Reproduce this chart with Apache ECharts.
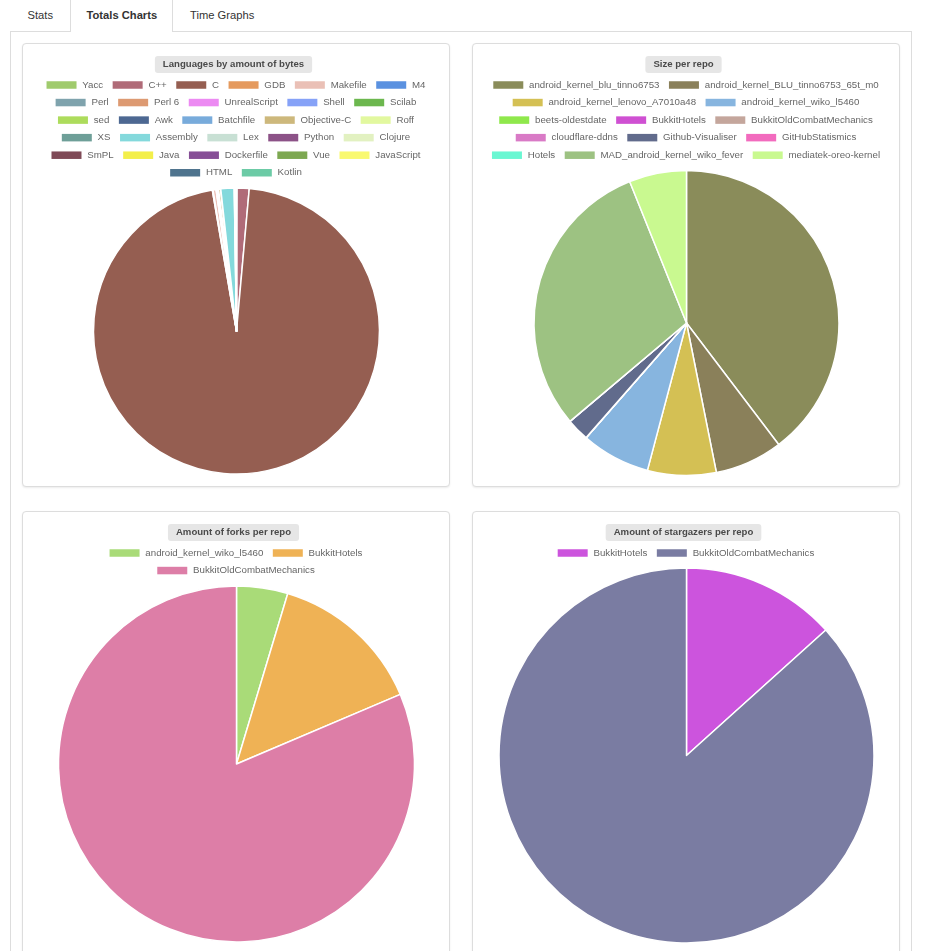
<!DOCTYPE html>
<html>
<head>
<meta charset="utf-8">
<script src="https://cdn.jsdelivr.net/npm/echarts@6/dist/echarts.min.js"></script>
<style>
  html, body { margin:0; padding:0; background:#fff; overflow:hidden; }
  body { width:927px; height:951px; position:relative; font-family:'Liberation Sans', Arial, sans-serif; }
  .abs { position:absolute; }
  .tab { position:absolute; top:8px; line-height:14px; font-size:11.2px; color:#333; white-space:nowrap; }
  .card { position:absolute; border:1px solid #ddd; border-radius:4px; box-shadow:0 1px 2px rgba(0,0,0,0.08); background:#fff; overflow:hidden; }
  .chart { position:absolute; left:0; top:0; width:426px; }
</style>
</head>
<body>
<!-- tab panel -->
<div class="abs" style="left:10px;top:31px;width:60px;height:0;border-top:1px solid #ddd;"></div>
<div class="abs" style="left:172px;top:31px;width:740px;height:0;border-top:1px solid #ddd;"></div>
<div class="abs" style="left:10px;top:31px;width:0;height:930px;border-left:1px solid #ddd;"></div>
<div class="abs" style="left:911px;top:31px;width:0;height:930px;border-left:1px solid #ddd;"></div>
<div class="abs" style="left:70px;top:-4px;width:101px;height:35px;border:1px solid #ddd;border-bottom:none;border-radius:4px 4px 0 0;background:#fff;"></div>
<span class="tab" style="left:27.5px;">Stats</span>
<span class="tab" style="left:86.5px;font-weight:bold;">Totals Charts</span>
<span class="tab" style="left:190px;">Time Graphs</span>

<div class="card" style="left:22px;top:43px;width:426px;height:442px;"><div id="c1" class="chart" style="height:442px;"></div></div>
<div class="card" style="left:472px;top:43px;width:426px;height:442px;"><div id="c2" class="chart" style="height:442px;"></div></div>
<div class="card" style="left:22px;top:511px;width:426px;height:480px;"><div id="c3" class="chart" style="height:480px;"></div></div>
<div class="card" style="left:472px;top:511px;width:426px;height:480px;"><div id="c4" class="chart" style="height:480px;"></div></div>

<script>
// ---------------- DATA ----------------
const langTitle = 'Languages by amount of bytes';
const langNames = ['Yacc','C++','C','GDB','Makefile','M4','Perl','Perl 6','UnrealScript','Shell','Scilab','sed','Awk','Batchfile','Objective-C','Roff','XS','Assembly','Lex','Python','Clojure','SmPL','Java','Dockerfile','Vue','JavaScript','HTML','Kotlin'];
const langBytes = [30000,680000,47800000,40000,170000,15000,60000,2000,3000,50000,1000,800,6000,1500,120000,4000,1200,750000,9000,40000,2000,12000,20000,500,8000,15000,10000,9000];
const langColors = ['#a0cb6d','#b06b78','#955e51','#e59a5e','#eac0b6','#5a91e0','#7fa3ad','#dd9a72','#ec8af2','#86a2f7','#6cb74e','#addc5c','#4d6892','#78abdb','#cdb87c','#e2f89f','#6e9f98','#84d9dc','#c8e0d4','#8c5287','#e2f1c1','#7f4a57','#f3ef4a','#864e96','#7da851','#f9f971','#4f748e','#6ccba6'];
const langLegendRows = [6,5,5,5,5,2];

const sizeTitle = 'Size per repo';
const sizeNames = ['android_kernel_blu_tinno6753','android_kernel_BLU_tinno6753_65t_m0','android_kernel_lenovo_A7010a48','android_kernel_wiko_l5460','beets-oldestdate','BukkitHotels','BukkitOldCombatMechanics','cloudflare-ddns','Github-Visualiser','GitHubStatismics','Hotels','MAD_android_kernel_wiko_fever','mediatek-oreo-kernel'];
const sizeValues = [1430000,259000,262000,263000,120,150,900,40,86000,60,200,1084000,219000];
const sizeColors = ['#8a8c5a','#8a805a','#d4c054','#87b5df','#8fe84c','#cf50d2','#c4a69c','#d97ac6','#616b8c','#f26bbe','#6af7d2','#9dc282','#c9f990'];
const sizeLegendRows = [2,2,3,3,3];

const forksTitle = 'Amount of forks per repo';
const forksNames = ['android_kernel_wiko_l5460','BukkitHotels','BukkitOldCombatMechanics'];
const forksValues = [2,6,35];
const forksColors = ['#a9db78','#efb255','#dd7ea7'];
const forksLegendRows = [2,1];

const starsTitle = 'Amount of stargazers per repo';
const starsNames = ['BukkitHotels','BukkitOldCombatMechanics'];
const starsValues = [2,13];
const starsColors = ['#cc54dd','#7a7ca2'];
const starsLegendRows = [2];

// ---------------- CHARTS ----------------
const FONT = "'Liberation Sans', Arial, sans-serif";
function textWidth(t, font) {
  const c = document.createElement('canvas').getContext('2d');
  c.font = font; return c.measureText(t).width;
}
function makePie(id, title, names, values, colors, rows, center, radius) {
  const chart = echarts.init(document.getElementById(id), null, {renderer:'canvas'});
  const tw = textWidth(title, 'bold 9.6px ' + FONT) + 16;
  const legends = [];
  let idx = 0;
  rows.forEach((n, r) => {
    legends.push({
      data: names.slice(idx, idx + n),
      top: 35 + r * 17.55,
      left: 'center',
      padding: 0,
      itemWidth: 30,
      itemHeight: 7.5,
      itemGap: 9.5,
      icon: 'rect',
      selectedMode: false,
      itemStyle: { borderWidth: 0 },
      textStyle: { fontSize: 9.7, color: '#666', fontFamily: FONT, lineHeight: 12, padding: [0,0,0,0.8] }
    });
    idx += n;
  });
  chart.setOption({
    animation: false,
    title: {
      text: title,
      left: 210.5 - tw / 2,
      top: 12,
      padding: [3, 8],
      backgroundColor: '#e6e6e6',
      borderRadius: 3,
      textStyle: { fontSize: 9.6, fontWeight: 'bold', color: '#4a4a4a', fontFamily: FONT, lineHeight: 11 }
    },
    legend: legends,
    series: [{
      type: 'pie',
      center: center,
      radius: [0, radius],
      startAngle: 90,
      clockwise: true,
      avoidLabelOverlap: false,
      label: { show: false },
      labelLine: { show: false },
      emphasis: { disabled: true },
      silent: true,
      itemStyle: { borderColor: '#fff', borderWidth: 1.5 },
      data: names.map((n, i) => ({ name: n, value: values[i], itemStyle: { color: colors[i] } }))
    }]
  });
}
makePie('c1', langTitle, langNames, langBytes, langColors, langLegendRows, [213.5, 287], 143);
makePie('c2', sizeTitle, sizeNames, sizeValues, sizeColors, sizeLegendRows, [213.5, 279], 152.5);
makePie('c3', forksTitle, forksNames, forksValues, forksColors, forksLegendRows, [213.5, 252], 178);
makePie('c4', starsTitle, starsNames, starsValues, starsColors, starsLegendRows, [213.5, 243.5], 187.5);
</script>
</body>
</html>
